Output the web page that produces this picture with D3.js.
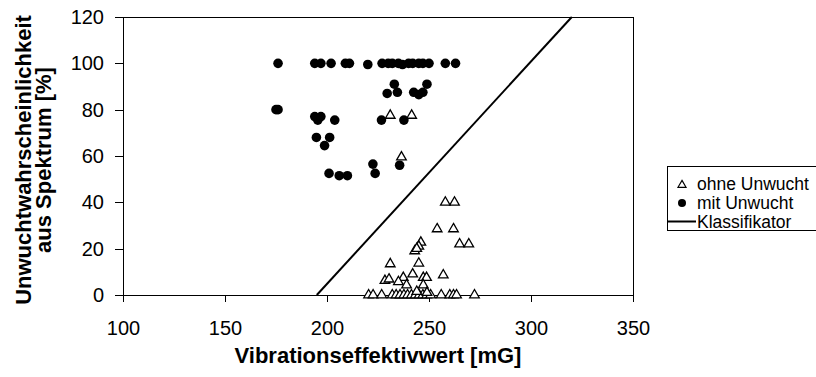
<!DOCTYPE html>
<html>
<head>
<meta charset="utf-8">
<script src="https://cdn.jsdelivr.net/npm/d3@7"></script>
<style>
  html, body { margin: 0; padding: 0; background: #fff; }
  svg { display: block; font-family: "Liberation Sans", Arial, sans-serif; }
</style>
</head>
<body>
<svg id="chart" width="816" height="377"></svg>
<script>
// ---- data ----
const xTicks = [100, 150, 200, 250, 300, 350];
const yTicks = [0, 20, 40, 60, 80, 100, 120];

// "mit Unwucht" (filled circles)
const mitX = [176, 194, 197, 202, 209, 211, 220, 227, 230, 232, 235, 237, 240, 242, 245, 247, 250, 258, 263,
              233, 229.5, 234.5, 249, 242.5, 245, 247,
              175, 176,
              194, 197, 195.5, 203.8, 226.7, 237.7,
              194.8, 201.3, 198.8,
              201, 206, 210, 222.5, 223.6, 235.6];
const mitY = [100, 100, 100, 100, 100, 100, 99.5, 100, 100, 100, 100, 99.5, 100, 100, 100, 100, 100, 100, 100,
              91, 87, 87.5, 91, 87.5, 86.5, 87.5,
              80, 80,
              77, 77, 75.5, 75.5, 75.5, 75.5,
              68, 68, 64.5,
              52.5, 51.5, 51.5, 56.5, 52.5, 56];

// "ohne Unwucht" (open triangles)
const ohneX = [231, 241.5, 236.5,
               258, 262.5, 254, 262, 246, 245, 265, 269.5,
               243, 244, 231, 245, 257, 242, 237.4, 247.2, 248.8, 228.4, 230.4, 235, 239, 247.2,
               220.4, 222.6, 226.8, 232, 233.9, 235.8, 237.7, 239.5, 241.4, 243.3, 245.2, 247, 248.9, 250.8, 256, 260.2, 262, 263.5, 272.3,
               244, 249];
const ohneY = [77.5, 77.5, 59.5,
               40, 40, 28.5, 28.5, 22.7, 21, 22, 22,
               19, 20, 13.4, 13.7, 8.6, 9, 7.5, 7.5, 7.5, 6.2, 6.8, 5.7, 4.3, 4.3,
               0, 0, 0, 0, 0, 0, 0, 0, 0, 0, 0, 0, 0, 0, 0, 0, 0, 0, 0,
               1.5, 1];

// Klassifikator line
const klassX = [195, 320];
const klassY = [0, 120];

const legendLabels = ["ohne Unwucht", "mit Unwucht", "Klassifikator"];

// ---- layout ----
const svg = d3.select("#chart");
const x = d3.scaleLinear().domain([100, 350]).range([123, 633]);
const y = d3.scaleLinear().domain([0, 120]).range([295, 17]);

// plot border
svg.append("rect")
  .attr("x", x(100)).attr("y", y(120))
  .attr("width", x(350) - x(100)).attr("height", y(0) - y(120))
  .attr("fill", "none").attr("stroke", "#000").attr("stroke-width", 1)
  .attr("shape-rendering", "crispEdges");

// axes
const xAxis = svg.append("g").attr("transform", `translate(0,${y(0)})`)
  .call(d3.axisBottom(x).tickValues(xTicks).tickSize(7).tickPadding(19).tickFormat(d3.format("d")));
const yAxis = svg.append("g").attr("transform", `translate(${x(100)},0)`)
  .call(d3.axisLeft(y).tickValues(yTicks).tickSize(8).tickPadding(11).tickFormat(d3.format("d")));
[xAxis, yAxis].forEach(g => {
  g.select(".domain").attr("stroke", "#000").attr("shape-rendering", "crispEdges");
  g.selectAll(".tick line").attr("stroke", "#000").attr("shape-rendering", "crispEdges");
  g.selectAll(".tick text").attr("fill", "#000").attr("font-size", 20)
    .attr("font-family", "'Liberation Sans', Arial, sans-serif");
});

// classifier line
svg.append("line")
  .attr("x1", x(klassX[0])).attr("y1", y(klassY[0]))
  .attr("x2", x(klassX[1])).attr("y2", y(klassY[1]))
  .attr("stroke", "#000").attr("stroke-width", 2);

// circles
const mit = mitX.map((d, i) => ({x: d, y: mitY[i]}));
svg.append("g").selectAll("circle").data(mit).join("circle")
  .attr("cx", d => x(d.x)).attr("cy", d => y(d.y)).attr("r", 4.8)
  .attr("fill", "#000");

// triangles
const ohne = ohneX.map((d, i) => ({x: d, y: ohneY[i]}));
const tri = d3.symbol().type(d3.symbolTriangle).size(40);
svg.append("g").selectAll("path").data(ohne).join("path")
  .attr("d", tri)
  .attr("transform", d => `translate(${x(d.x)},${y(d.y)})`)
  .attr("fill", "#fff").attr("stroke", "#000").attr("stroke-width", 1.3);

// axis titles
svg.append("text")
  .attr("x", (x(100) + x(350)) / 2).attr("y", 363)
  .attr("text-anchor", "middle").attr("font-weight", "bold").attr("font-size", 22)
  .text("Vibrationseffektivwert [mG]");
svg.append("text")
  .attr("transform", "translate(31,160) rotate(-90)")
  .attr("text-anchor", "middle").attr("font-weight", "bold").attr("font-size", 22)
  .text("Unwuchtwahrscheinlichkeit");
svg.append("text")
  .attr("transform", "translate(51,160) rotate(-90)")
  .attr("text-anchor", "middle").attr("font-weight", "bold").attr("font-size", 22)
  .text("aus Spektrum [%]");

// legend
const lg = svg.append("g");
lg.append("rect").attr("x", 667.5).attr("y", 166.5).attr("width", 170).attr("height", 64)
  .attr("fill", "#fff").attr("stroke", "#000").attr("stroke-width", 1);
const rowY = [184, 203, 221.5];
lg.append("path").attr("d", d3.symbol().type(d3.symbolTriangle).size(28))
  .attr("transform", `translate(682,${rowY[0] + 1})`)
  .attr("fill", "#fff").attr("stroke", "#000").attr("stroke-width", 1.2);
lg.append("circle").attr("cx", 682).attr("cy", rowY[1]).attr("r", 4).attr("fill", "#000");
lg.append("line").attr("x1", 668).attr("x2", 696).attr("y1", rowY[2]).attr("y2", rowY[2])
  .attr("stroke", "#000").attr("stroke-width", 2);
lg.selectAll("text.lt").data(legendLabels).join("text").attr("class", "lt")
  .attr("x", 697).attr("y", (d, i) => rowY[i]).attr("dy", "0.35em")
  .attr("font-size", 17.5).attr("fill", "#000").text(d => d);
</script>
</body>
</html>
